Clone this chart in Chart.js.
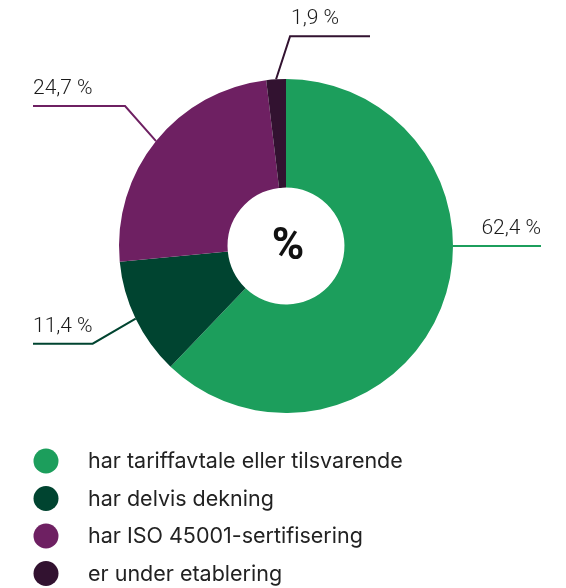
<!DOCTYPE html>
<html>
<head>
<meta charset="utf-8">
<script src="https://cdn.jsdelivr.net/npm/chart.js@4"></script>
<style>
  body { margin: 0; background: #fff; }
  canvas { display: block; }
</style>
</head>
<body>
<canvas id="pie" width="566" height="588"></canvas>
<script>
// Data
const categories = [
  "har tariffavtale eller tilsvarende",
  "har delvis dekning",
  "har ISO 45001-sertifisering",
  "er under etablering",
];
const shares = [62.4, 11.4, 24.7, 1.9];
const valueLabels = ["62,4 %", "11,4 %", "24,7 %", "1,9 %"];
const sliceColors = ["#1c9e5c", "#004430", "#6e2062", "#321230"];

// Leader line setup per slice (anchor angle override, elbow offset, end x, text align)
const leaders = [
  { angle: 0, elbow: [0, 0], endX: 541, align: "right" },
  { angle: null, elbow: [-43, 25], endX: 33, align: "left" },
  { angle: null, elbow: [-31, -35], endX: 33, align: "left" },
  { angle: null, elbow: [14, -43], endX: 370, align: "elbow" },
];

const labelFont = "300 21px Roboto, sans-serif";

const leaderPlugin = {
  id: "leaders",
  afterDatasetsDraw(chart) {
    const ctx = chart.ctx;
    const meta = chart.getDatasetMeta(0);
    meta.data.forEach((arc, i) => {
      const p = arc.getProps(["x", "y", "startAngle", "endAngle", "outerRadius"], true);
      const cfg = leaders[i];
      const a = cfg.angle !== null ? cfg.angle : (p.startAngle + p.endAngle) / 2;
      const sx = p.x + Math.cos(a) * p.outerRadius;
      const sy = p.y + Math.sin(a) * p.outerRadius;
      const ex = sx + cfg.elbow[0];
      const ey = sy + cfg.elbow[1];
      ctx.save();
      ctx.strokeStyle = sliceColors[i];
      ctx.lineWidth = 2;
      ctx.beginPath();
      ctx.moveTo(sx, sy);
      ctx.lineTo(ex, ey);
      ctx.lineTo(cfg.endX, ey);
      ctx.stroke();

      ctx.font = labelFont;
      ctx.fillStyle = "#1a1a1a";
      ctx.textBaseline = "alphabetic";
      let tx;
      if (cfg.align === "right") {
        ctx.textAlign = "right";
        tx = cfg.endX;
      } else if (cfg.align === "left") {
        ctx.textAlign = "left";
        tx = cfg.endX;
      } else {
        ctx.textAlign = "left";
        tx = ex + 1;
      }
      ctx.fillText(valueLabels[i], tx, ey - 12);
      ctx.restore();
    });

    // centre symbol
    const c = meta.data[0];
    ctx.save();
    ctx.font = "700 44px Roboto, sans-serif";
    ctx.fillStyle = "#111";
    ctx.textAlign = "center";
    ctx.textBaseline = "middle";
    ctx.fillText("%", c.x + 2, c.y + 2);
    ctx.restore();

    // legend
    ctx.save();
    ctx.font = "400 21.5px Inter, sans-serif";
    ctx.textAlign = "left";
    ctx.textBaseline = "middle";
    categories.forEach((name, i) => {
      const y = 461 + i * 37.5;
      ctx.fillStyle = sliceColors[i];
      ctx.beginPath();
      ctx.arc(46, y, 12.5, 0, Math.PI * 2);
      ctx.fill();
      ctx.fillStyle = "#222";
      ctx.fillText(name, 88, y + 1);
    });
    ctx.restore();
  },
};

new Chart(document.getElementById("pie"), {
  type: "doughnut",
  data: {
    labels: categories,
    datasets: [
      {
        data: shares,
        backgroundColor: sliceColors,
        borderWidth: 0,
      },
    ],
  },
  options: {
    responsive: false,
    animation: false,
    cutout: "35%",
    layout: {
      padding: { left: 119, right: 113, top: 79, bottom: 175 },
    },
    plugins: {
      legend: { display: false },
      tooltip: { enabled: false },
    },
  },
  plugins: [leaderPlugin],
});
</script>
</body>
</html>
